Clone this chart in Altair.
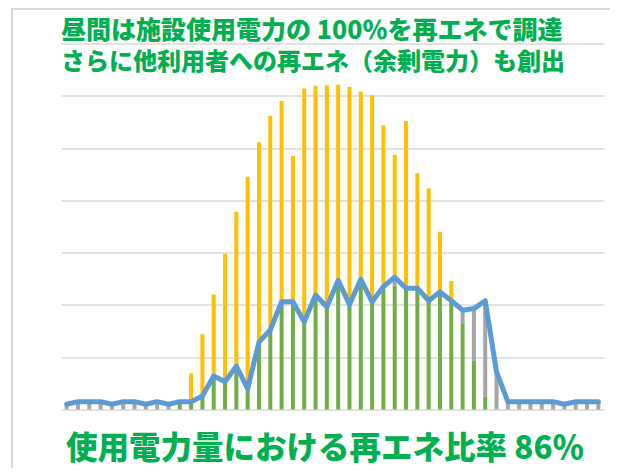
import altair as alt
import pandas as pd

# 30-minute slots over one day
slots = [f"{h}:{m:02d}" for h in range(24) for m in (0, 30)]

# consumption of the facility (blue line)
consumption = [1.0, 1.5, 1.5, 1.5, 1.0, 1.5, 1.5, 1.0, 1.5, 1.0,
               1.5, 1.5, 2.6, 6.4, 5.3, 8.3, 4.0, 12.9, 15.2, 20.6,
               20.6, 16.8, 21.9, 19.6, 24.7, 20.1, 24.9, 20.6, 23.5, 25.3,
               23.2, 23.2, 20.8, 22.5, 20.8, 19.0, 19.3, 20.8, 7.2, 1.5,
               1.5, 1.5, 1.5, 1.5, 1.0, 1.5, 1.5, 1.5]

# PV used on site (green)
pv_self_use = [0, 0, 0, 0, 0, 0, 0, 0, 0, 0,
               1.5, 1.5, 2.6, 6.4, 5.3, 8.3, 4.0, 12.9, 15.2, 20.6,
               20.6, 16.8, 21.9, 19.6, 24.7, 20.1, 24.9, 20.6, 23.5, 23.7,
               23.2, 23.2, 20.8, 22.5, 20.8, 16.5, 9.3, 2.5, 0.2, 0,
               0, 0, 0, 0, 0, 0, 0, 0]

# purchased from grid (gray)
grid_purchase = [1.0, 1.5, 1.5, 1.5, 1.0, 1.5, 1.5, 1.0, 1.5, 1.0,
                 0, 0, 0, 0, 0, 0, 0, 0, 0, 0,
                 0, 0, 0, 0, 0, 0, 0, 0, 0, 1.6,
                 0, 0, 0, 0, 0, 2.5, 10.0, 18.3, 7.0, 1.5,
                 1.5, 1.5, 1.5, 1.5, 1.0, 1.5, 1.5, 1.5]

# surplus PV supplied to other users (yellow)
pv_surplus = [0, 0, 0, 0, 0, 0, 0, 0, 0, 0,
              0, 5.4, 11.8, 15.6, 24.5, 29.5, 40.5, 38.2, 41.0, 38.4,
              27.9, 44.6, 40.0, 42.4, 37.4, 41.6, 35.9, 39.5, 30.8, 23.4,
              32.0, 22.0, 21.5, 11.5, 3.8, 0, 0, 0, 0, 0,
              0, 0, 0, 0, 0, 0, 0, 0]

series_names = ["自家消費", "系統購入", "余剰電力"]
series_colors = ["#70AD47", "#A5A5A5", "#FFC000"]

title_line1 = "昼間は施設使用電力の 100％を再エネで調達"
title_line2 = "さらに他利用者への再エネ（余剰電力）も創出"
footer_text = "使用電力量における再エネ比率 86％"

rows = []
for i, s in enumerate(slots):
    for k, (name, vals) in enumerate(zip(series_names, [pv_self_use, grid_purchase, pv_surplus])):
        rows.append({"slot": s, "series": name, "value": vals[i], "ord": k})
bars_df = pd.DataFrame(rows)
line_df = pd.DataFrame({"slot": slots, "consumption": consumption})

W, H = 543, 366
GREEN_TEXT = "#00B050"
FONT = "Noto Sans CJK JP"

xenc = alt.X("slot:N", sort=slots, axis=None,
             scale=alt.Scale(paddingInner=0, paddingOuter=0))

bars = alt.Chart(bars_df).mark_bar(size=4).encode(
    x=xenc,
    y=alt.Y("sum(value):Q",
            scale=alt.Scale(domain=[0, 70], nice=False),
            axis=alt.Axis(values=[0, 10, 20, 30, 40, 50, 60, 70], labels=False,
                          ticks=False, domain=False, title=None,
                          gridColor="#D9D9D9", gridWidth=1.5, gridOpacity=1)),
    color=alt.Color("series:N", scale=alt.Scale(domain=series_names, range=series_colors),
                    legend=None),
    order=alt.Order("ord:Q", sort="ascending"),
)

line = alt.Chart(line_df).mark_line(color="#5B9BD5", strokeWidth=5,
                                    strokeJoin="round", strokeCap="round").encode(
    x=xenc,
    y=alt.Y("consumption:Q"),
)

txt_df = pd.DataFrame({"t1": [title_line1], "t2": [title_line2], "t3": [footer_text]})

t1 = alt.Chart(txt_df).mark_text(align="left", baseline="middle", font=FONT,
                                 fontSize=25, fontWeight=900, color=GREEN_TEXT).encode(
    text="t1:N", x=alt.value(0), y=alt.value(-13))
t2 = alt.Chart(txt_df).mark_text(align="left", baseline="middle", font=FONT,
                                 fontSize=24, fontWeight=900, color=GREEN_TEXT).encode(
    text="t2:N", x=alt.value(0), y=alt.value(19.5))
t3 = alt.Chart(txt_df).mark_text(align="left", baseline="middle", font=FONT,
                                 fontSize=31.5, fontWeight=900, color=GREEN_TEXT).encode(
    text="t3:N", x=alt.value(5), y=alt.value(406))

border_v = alt.Chart(txt_df).mark_rule(color="#D9D9D9", strokeWidth=2).encode(
    x=alt.value(-49), y=alt.value(-35), y2=alt.value(430))
border_h = alt.Chart(txt_df).mark_rule(color="#D9D9D9", strokeWidth=2).encode(
    x=alt.value(-50), x2=alt.value(560), y=alt.value(-34.5))

chart = alt.layer(border_v, border_h, bars, line, t1, t2, t3).properties(
    width=W, height=H,
    autosize=alt.AutoSizeParams(type="none"),
    padding={"left": 53, "top": 35.5, "right": 6, "bottom": 58},
).configure_view(stroke=None)

chart.save("out.html", embed_options={"renderer": "svg", "actions": False})
